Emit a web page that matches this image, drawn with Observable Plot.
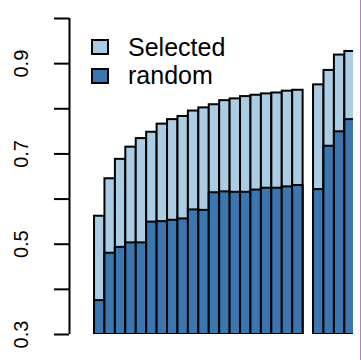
<!DOCTYPE html>
<html>
<head>
<meta charset="utf-8">
<script src="https://cdn.jsdelivr.net/npm/d3@7"></script>
<script src="https://cdn.jsdelivr.net/npm/@observablehq/plot@0.6"></script>
<style>
  html, body { margin: 0; padding: 0; background: #fff; }
  #wrap { position: relative; width: 361px; height: 360px; overflow: hidden;
          font-family: "Liberation Sans", Arial, Helvetica, sans-serif; }
  #edge { position: absolute; left: 360px; top: 0; width: 1px; height: 360px; background: #a387c6; }
  .key { position: absolute; left: 91px; width: 18px; height: 16px; box-sizing: border-box; border: 2px solid #000; }
  .lab { position: absolute; left: 128px; font-size: 25px; line-height: 25px; color: #000; white-space: nowrap; }
</style>
</head>
<body>
<div id="wrap">
  <div id="chart"></div>
  <div class="key" id="k1" style="top:39px"></div>
  <div class="key" id="k2" style="top:68px"></div>
  <div class="lab" id="t1" style="top:35px"></div>
  <div class="lab" id="t2" style="top:63px"></div>
  <div id="edge"></div>
</div>
<script>
// Series, one value per bar position; null marks the empty slot.
const seriesNames = ["Selected", "random"];
const selected = [0.562, 0.645, 0.688, 0.715, 0.734, 0.748, 0.766, 0.776, 0.783, 0.795,
                  0.802, 0.809, 0.818, 0.822, 0.827, 0.830, 0.833, 0.835, 0.839, 0.841,
                  null, 0.853, 0.885, 0.919, 0.927];
const random   = [0.375, 0.480, 0.493, 0.503, 0.503, 0.549, 0.550, 0.553, 0.556, 0.576,
                  0.575, 0.614, 0.616, 0.615, 0.615, 0.620, 0.624, 0.624, 0.627, 0.630,
                  null, 0.621, 0.717, 0.749, 0.776];
const yTicks  = [0.3, 0.4, 0.5, 0.6, 0.7, 0.8, 0.9, 1.0];
const yLabels = [0.3, 0.5, 0.7, 0.9];

const colors = {Selected: "#abcde3", random: "#3a77b0"};

const rows = selected
  .map((v, i) => ({i, selected: v, random: random[i]}))
  .filter(d => d.selected != null);

const xDomain = [-2.4, 24.83];
const base = 0.3;

const chart = Plot.plot({
  width: 360,
  height: 360,
  marginLeft: 69,
  marginRight: 7,
  marginTop: 18,
  marginBottom: 26,
  style: {fontFamily: "Liberation Sans, Arial, Helvetica, sans-serif", background: "transparent"},
  x: {type: "linear", domain: xDomain, axis: null},
  y: {domain: [0.3, 1.0], axis: null},
  marks: [
    // light bars behind
    Plot.rectY(rows, {x1: d => d.i, x2: d => d.i + 1, y1: () => base, y2: "selected",
      fill: colors.Selected, stroke: "#000", strokeWidth: 2, clip: true}),
    // dark bars in front
    Plot.rectY(rows, {x1: d => d.i, x2: d => d.i + 1, y1: () => base, y2: "random",
      fill: colors.random, stroke: "#000", strokeWidth: 2, clip: true}),
    // y axis: line, ticks, rotated labels
    Plot.ruleX([xDomain[0]], {y1: 0.3, y2: 1.0, stroke: "#000", strokeWidth: 2}),
    Plot.axisY(yTicks, {anchor: "left", tickSize: 15, tickFormat: () => "", stroke: "#000", strokeWidth: 2}),
    Plot.text(yLabels, {y: d => d, text: d => d.toFixed(1), frameAnchor: "left", dx: -48,
      rotate: -90, textAnchor: "middle", lineAnchor: "middle", fontSize: 20, fill: "#000"})
  ]
});
document.getElementById("chart").appendChild(chart);

document.getElementById("k1").style.background = colors.Selected;
document.getElementById("k2").style.background = colors.random;
document.getElementById("t1").textContent = seriesNames[0];
document.getElementById("t2").textContent = seriesNames[1];
</script>
</body>
</html>
